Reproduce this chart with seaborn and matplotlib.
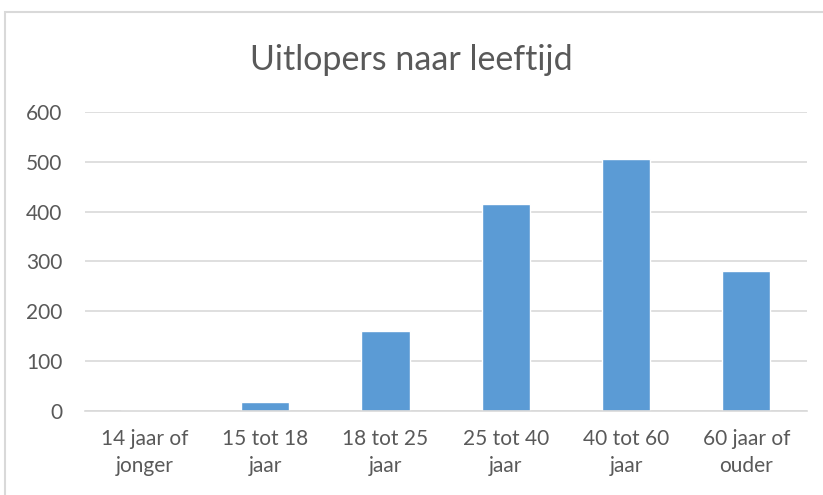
import matplotlib
matplotlib.use("Agg")
import matplotlib.pyplot as plt
import seaborn as sns
import pandas as pd
from matplotlib.patches import Rectangle

# data
categories = ["14 jaar of\njonger", "15 tot 18\njaar", "18 tot 25\njaar",
              "25 tot 40\njaar", "40 tot 60\njaar", "60 jaar of\nouder"]
values = [2, 18, 161, 415, 505, 280]
yticks = [0, 100, 200, 300, 400, 500, 600]

df = pd.DataFrame({"Leeftijd": categories, "Uitlopers": values})

sns.set_style("white")
plt.rcParams["font.family"] = ["Lato", "DejaVu Sans"]

fig = plt.figure(figsize=(8.23, 4.95), dpi=100)
ax = fig.add_axes([0.103, 0.1697, 0.877, 0.6043])

sns.barplot(data=df, x="Leeftijd", y="Uitlopers", color="#5b9bd5",
            saturation=1, width=0.4, ax=ax)

ax.set_ylim(0, 600)
ax.set_yticks(yticks)
ax.yaxis.grid(True, color="#d9d9d9", linewidth=1.2)
ax.set_axisbelow(True)
for s in ["top", "right", "left"]:
    ax.spines[s].set_visible(False)
ax.spines["bottom"].set_color("#d9d9d9")
ax.spines["bottom"].set_linewidth(1.2)
ax.tick_params(axis="both", length=0, colors="#595959", labelsize=15)
ax.tick_params(axis="y", pad=16)
ax.tick_params(axis="x", pad=13)
for lbl in ax.get_xticklabels():
    lbl.set_linespacing(1.45)
ax.set_xlabel("")
ax.set_ylabel("")
ax.set_xlim(-0.5, 5.5)

fig.text(0.5, 0.878, "Uitlopers naar leeftijd", ha="center", va="center",
         fontsize=24.5, color="#595959")

# chart frame
fig.patches.append(Rectangle((5 / 823, -0.1), 2, 1 - 12 / 495 + 0.1,
                             transform=fig.transFigure, fill=False,
                             edgecolor="#d9d9d9", linewidth=1.5))

fig.savefig("out.png", dpi=100)
